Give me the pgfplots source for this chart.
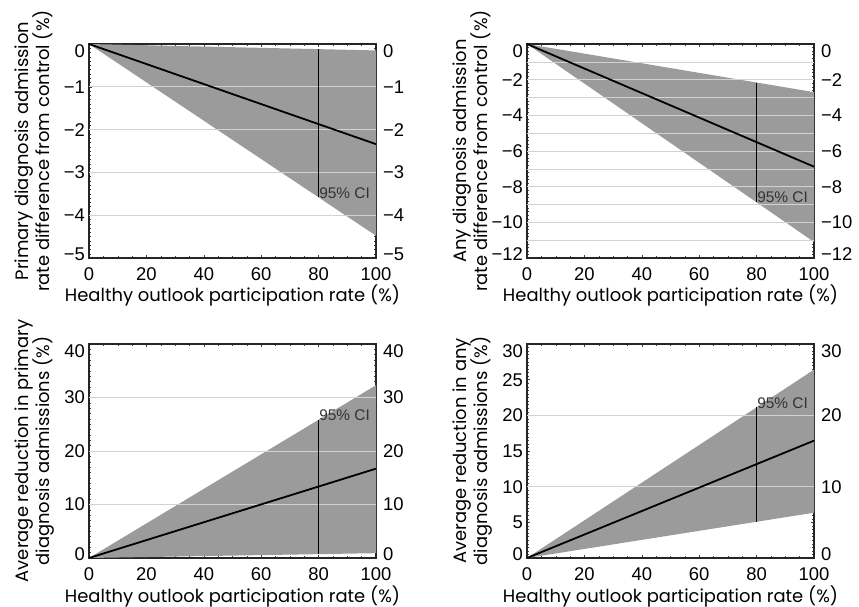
\documentclass[border=0pt]{standalone}
\usepackage{fontspec}
\setmainfont{Poppins}
\newfontfamily\tickff{Liberation Sans}
\usepackage{pgfplots}
\pgfplotsset{compat=1.18}

\definecolor{cifill}{RGB}{155,155,155}
\definecolor{gridc}{RGB}{210,210,210}
\newcommand{\lblfont}{\fontsize{18}{22}\selectfont}
\newcommand{\tickfont}{\tickff\fontsize{18.5}{20}\selectfont}
\newcommand{\cifont}{\tickff\fontsize{15.5}{16}\selectfont}
% edge tick labels sit a little inside the frame, as in the original
\newcommand{\tl}[1]{\raisebox{-7bp}[\height][\depth]{#1}}
\newcommand{\bl}[1]{\raisebox{4bp}[\height][\depth]{#1}}

\tikzset{
  meanline/.style={black, line width=1.8pt},
  ciline/.style={black, line width=0.6pt},
  cilabel/.style={font=\cifont, text=black!80, inner sep=0.5bp},
}

\pgfplotsset{
  panel/.style={
    scale only axis, width=287bp, height=214bp,
    /pgf/number format/assume math mode=true,
    xmin=0, xmax=100, xtick={0,20,...,100}, minor x tick num=3,
    tick align=inside, major tick length=3bp, minor tick length=2bp,
    every tick/.style={black!75, line width=0.4pt},
    axis line style={line width=1.1pt, black!85},
    tick label style={font=\tickfont},
    xticklabel style={anchor=north, inner sep=0pt, yshift=-9bp},
    yticklabel style={anchor=east, inner sep=0pt, xshift=-4bp},
    xlabel={Healthy outlook participation rate (\%)},
    xlabel style={font=\lblfont, at={(axis description cs:0.5,0)}, anchor=base, yshift=-44bp, inner sep=0pt},
    ylabel style={font=\lblfont, at={(axis description cs:-0.136,0.5)}, anchor=base, align=center, inner sep=0pt},
  },
  over/.style={
    scale only axis, width=287bp, height=214bp,
    /pgf/number format/assume math mode=true,
    xmin=0, xmax=100, hide x axis, axis y line*=right,
    y axis line style={draw=none},
    major tick length=0pt,
    tick label style={font=\tickfont},
    yticklabel style={anchor=west, inner sep=0pt, xshift=7bp},
    extra y tick labels={},
    extra y tick style={grid=major, major tick length=0pt},
    major grid style={gridc, line width=0.6pt},
  },
}

\begin{document}
\begin{tikzpicture}

% ---- top left
\begin{axis}[panel, at={(89bp,349bp)}, anchor=south west,
  ymin=-5, ymax=0, ytick={0,-1,...,-5}, minor y tick num=9,
  yticklabels={\tl{0},−1,−2,−3,−4,\bl{−5}},
  ylabel={Primary diagnosis admission\\rate difference from control (\%)}]
\addplot[fill=cifill, draw=none] coordinates {(0,0) (100,-0.15) (100,-4.48) (0,0)};
\end{axis}
\begin{axis}[over, at={(89bp,349bp)}, anchor=south west,
  ymin=-5, ymax=0, ytick={0,-1,...,-5}, yticklabels={\tl{0},−1,−2,−3,−4,\bl{−5}},
  extra y ticks={-1,-2,-3,-4}]
\addplot[meanline] coordinates {(0,0) (100,-2.34)};
\addplot[ciline] coordinates {(80,-0.12) (80,-3.58)};
\node[cilabel, anchor=south west] at (axis cs:80,-3.64) {95\% CI};
\end{axis}

% ---- top right
\begin{axis}[panel, at={(527bp,349bp)}, anchor=south west,
  ymin=-12, ymax=0, ytick={0,-2,...,-12}, minor y tick num=9,
  yticklabels={\tl{0},−2,−4,−6,−8,−10,\bl{−12}},
  ylabel={Any diagnosis admission\\rate difference from control (\%)}]
\addplot[fill=cifill, draw=none] coordinates {(0,0) (100,-2.7) (100,-11.1) (0,0)};
\end{axis}
\begin{axis}[over, at={(527bp,349bp)}, anchor=south west,
  ymin=-12, ymax=0, ytick={0,-2,...,-12}, yticklabels={\tl{0},−2,−4,−6,−8,−10,\bl{−12}},
  extra y ticks={-1,-2,-3,-4,-5,-6,-7,-8,-9,-10,-11}]
\addplot[meanline] coordinates {(0,0) (100,-6.88)};
\addplot[ciline] coordinates {(80,-2.16) (80,-8.88)};
\node[cilabel, anchor=south west] at (axis cs:80,-8.95) {95\% CI};
\end{axis}

% ---- bottom left
\begin{axis}[panel, at={(89bp,49bp)}, anchor=south west,
  ymin=0, ymax=40, ytick={0,10,...,40}, minor y tick num=9,
  yticklabels={\bl{0},10,20,30,\tl{40}},
  ylabel={Average reduction in primary\\diagnosis admissions (\%)}]
\addplot[fill=cifill, draw=none] coordinates {(0,0) (100,32.3) (100,0.9) (0,0)};
\end{axis}
\begin{axis}[over, at={(89bp,49bp)}, anchor=south west,
  ymin=0, ymax=40, ytick={0,10,...,40}, yticklabels={\bl{0},10,20,30,\tl{40}},
  extra y ticks={10,20,30}]
\addplot[meanline] coordinates {(0,0) (100,16.7)};
\addplot[ciline] coordinates {(80,25.85) (80,0.72)};
\node[cilabel, anchor=south west] at (axis cs:80,25.6) {95\% CI};
\end{axis}

% ---- bottom right
\begin{axis}[panel, at={(527bp,49bp)}, anchor=south west,
  ymin=0, ymax=30, ytick={0,5,...,30}, minor y tick num=9,
  yticklabels={\bl{0},5,10,15,20,25,\tl{30}},
  ylabel={Average reduction in any\\diagnosis admissions (\%)}]
\addplot[fill=cifill, draw=none] coordinates {(0,0) (100,26.4) (100,6.35) (0,0)};
\end{axis}
\begin{axis}[over, at={(527bp,49bp)}, anchor=south west,
  ymin=0, ymax=30, ytick={0,10,20,30}, yticklabels={\bl{0},10,20,\tl{30}},
  extra y ticks={10,20}]
\addplot[meanline] coordinates {(0,0) (100,16.45)};
\addplot[ciline] coordinates {(80,21.1) (80,5.1)};
\node[cilabel, anchor=south west] at (axis cs:80,20.9) {95\% CI};
\end{axis}

\pgfresetboundingbox
\path[use as bounding box] (0,0) rectangle (859bp,607bp);
\end{tikzpicture}
\end{document}
